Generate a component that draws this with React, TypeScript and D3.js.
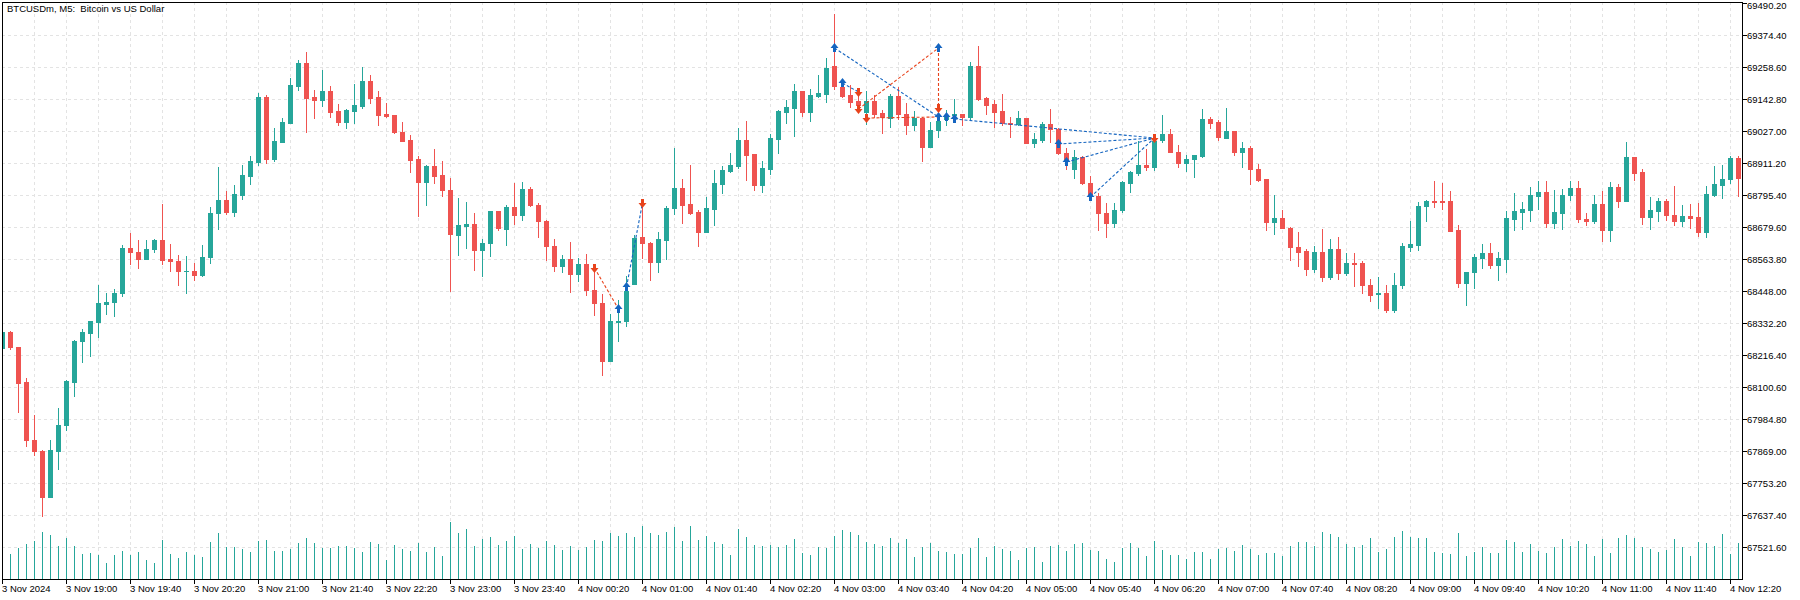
import React from 'react';
import * as d3 from 'd3';

// ---------- DATA ----------
// 5-minute candles starting 3 Nov 2024 18:20
const opens = [
68242,68300,68246,68118,67910,67870,67703,67870,67963,68118,68266,68295,68335,68400,68407,68440,68605,68589,68563,68600,
68634,68562,68557,68519,68522,68505,68571,68729,68777,68734,68795,68865,68915,69150,68926,68987,69056,69190,69273,69150,
69139,69172,69099,69060,69099,69118,69208,69150,69088,69085,69023,68994,68926,68842,68900,68866,68813,68651,68683,68690,
68598,68622,68737,68674,68753,68723,68817,68759,68701,68611,68538,68564,68510,68546,68452,68405,68195,68336,68340,68473,
68643,68622,68553,68634,68748,68821,68763,68733,68661,68746,68837,68884,68902,68994,68943,68832,68889,68998,69096,69110,
69172,69096,69154,69161,69262,69186,69157,69135,69096,69135,69092,69074,69154,69088,69049,69074,68969,69030,69070,69085,
69088,69076,69262,69145,69123,69098,69056,69052,69074,68984,68996,69052,69036,68949,68890,68933,68840,68790,68732,68694,
68740,68840,68875,68904,68897,68993,69016,68952,68911,68924,68937,69070,69058,69003,69027,68951,68965,68891,68852,68698,
68712,68676,68609,68592,68528,68589,68499,68600,68513,68549,68548,68471,68436,68441,68379,68468,68609,68616,68754,68774,
68773,68772,68667,68477,68515,68569,68585,68542,68565,68710,68735,68740,68793,68806,68694,68732,68794,68821,68710,68701,
68763,68669,68824,68774,68933,68877,68716,68739,68774,68724,68701,68719,68714,68661,68797,68833,68853,68929];
const highs = [
68302,68305,68247,68134,68000,67871,67910,68026,68127,68270,68311,68339,68468,68439,68457,68616,68659,68634,68634,68635,
68764,68619,68580,68576,68551,68616,68753,68898,68810,68832,68904,68937,69164,69157,69038,69074,69219,69284,69313,69175,
69248,69190,69125,69107,69197,69259,69230,69172,69128,69086,69060,69012,68937,68904,68962,68918,68857,68785,68770,68730,
68636,68738,68738,68759,68839,68842,68824,68766,68705,68636,68578,68625,68567,68582,68538,68437,68365,68415,68502,68651,
68756,68625,68662,68756,68965,68853,68904,68741,68788,68886,68900,68947,69038,69063,68944,68918,69016,69103,69139,69197,
69173,69179,69230,69290,69450,69215,69193,69165,69172,69157,69103,69161,69186,69128,69099,69078,69060,69088,69103,69143,
69090,69277,69335,69150,69139,69161,69078,69099,69075,69020,69060,69107,69037,68966,68958,68937,68864,68803,68766,68766,
68846,68882,68991,68962,68998,69085,69034,68976,68940,68941,69107,69078,69067,69110,69028,68987,68973,68908,68854,68795,
68741,68678,68662,68600,68611,68672,68636,68643,68585,68585,68557,68491,68499,68470,68513,68622,68701,68770,68777,68846,
68839,68810,68687,68518,68582,68618,68622,68589,68737,68803,68770,68824,68846,68846,68813,68817,68846,68846,68730,68795,
68810,68842,68835,68987,68934,68890,68788,68784,68781,68828,68759,68763,68766,68828,68900,68904,68936,68937];
const lows = [
68240,68237,68011,67887,67854,67634,67701,67805,67946,68068,68192,68213,68280,68365,68358,68430,68547,68533,68562,68588,
68547,68519,68471,68440,68487,68504,68551,68671,68728,68719,68781,68835,68904,68911,68918,68986,69055,69175,69023,69074,
69117,69078,69049,69038,69056,69110,69128,69049,69078,69020,68990,68879,68719,68759,68839,68792,68448,68578,68604,68524,
68502,68575,68669,68614,68690,68705,68755,68643,68560,68520,68517,68444,68484,68434,68361,68144,68194,68267,68321,68472,
68567,68488,68517,68564,68727,68694,68727,68611,68660,68687,68803,68879,68893,68850,68813,68806,68871,68947,69056,69009,
69081,69063,69150,69132,69180,69150,69114,69105,69052,69078,69019,69041,69070,69016,69031,68918,68968,69005,69049,69060,
69049,69070,69139,69088,69041,69049,69005,69049,68983,68969,68987,68987,68944,68890,68857,68835,68794,68669,68643,68680,
68734,68806,68868,68886,68886,68987,68950,68897,68882,68861,68933,69038,68994,69001,68940,68897,68835,68846,68669,68654,
68675,68560,68540,68505,68515,68484,68491,68491,68506,68466,68441,68412,68386,68372,68372,68459,68593,68596,68701,68752,
68745,68664,68462,68397,68459,68531,68531,68488,68517,68669,68672,68701,68745,68680,68676,68672,68777,68698,68687,68694,
68629,68629,68752,68773,68850,68690,68672,68701,68705,68687,68683,68676,68647,68643,68792,68784,68839,68792];
const closes = [
68300,68245,68114,67907,67869,67703,67874,67964,68121,68268,68298,68338,68403,68410,68441,68605,68588,68563,68601,68634,
68559,68555,68519,68522,68505,68572,68731,68778,68734,68799,68868,68918,69150,68926,68991,69060,69193,69273,69146,69139,
69172,69096,69060,69103,69121,69208,69146,69085,69081,69023,68991,68922,68842,68900,68864,68813,68654,68687,68690,68596,
68622,68737,68676,68752,68723,68817,68759,68701,68611,68538,68564,68510,68546,68452,68405,68195,68339,68340,68448,68640,
68622,68553,68636,68748,68821,68759,68730,68661,68748,68839,68886,68904,68994,68940,68832,68893,69002,69099,69114,69172,
69096,69157,69165,69255,69190,69154,69132,69121,69135,69088,69076,69154,69088,69049,69074,68969,69031,69063,69085,69089,
69078,69262,69143,69121,69096,69056,69052,69074,68984,68998,69052,69034,68947,68926,68933,68839,68795,68730,68694,68741,
68842,68879,68904,68897,68991,69016,68951,68911,68926,68940,69070,69056,69005,69027,68951,68965,68889,68850,68698,68712,
68676,68607,68589,68528,68589,68499,68600,68513,68549,68546,68470,68433,68441,68379,68470,68611,68618,68756,68774,68770,
68770,68665,68477,68517,68571,68585,68542,68567,68712,68737,68745,68795,68806,68694,68734,68795,68821,68708,68701,68763,
68669,68824,68774,68933,68875,68716,68741,68774,68723,68701,68719,68712,68661,68799,68835,68853,68929,68857];
const volumes = [
656,600,744,840,912,1128,1056,792,984,792,600,624,576,384,576,672,576,648,456,384,
936,600,504,648,576,528,888,1104,768,768,720,648,912,936,672,672,720,864,984,864,
744,744,792,792,744,648,888,840,456,816,720,672,864,648,768,552,1368,1104,1200,792,
960,1008,816,912,1032,720,840,744,912,816,696,792,696,768,936,912,1104,1032,1104,1008,
1272,1104,1056,1128,1248,912,1272,936,1032,888,840,576,1200,1008,816,792,816,768,816,960,
624,576,768,744,1032,1176,1128,1056,888,840,792,984,856,960,528,768,864,672,648,600,
600,744,984,528,792,720,672,456,744,768,408,792,816,672,840,864,696,672,480,408,
744,864,744,552,912,696,576,576,480,648,648,480,720,744,672,816,720,576,624,624,
552,792,888,888,792,1128,1080,1008,840,768,816,984,648,720,1008,1152,1008,984,984,648,
624,600,1104,552,648,768,624,624,936,888,648,840,672,624,768,960,792,912,840,552,
960,624,984,1056,984,768,720,648,696,960,768,552,888,864,792,1080,600,864];

const timeLabels = ['3 Nov 2024','3 Nov 19:00','3 Nov 19:40','3 Nov 20:20','3 Nov 21:00','3 Nov 21:40','3 Nov 22:20',
'3 Nov 23:00','3 Nov 23:40','4 Nov 00:20','4 Nov 01:00','4 Nov 01:40','4 Nov 02:20','4 Nov 03:00','4 Nov 03:40',
'4 Nov 04:20','4 Nov 05:00','4 Nov 05:40','4 Nov 06:20','4 Nov 07:00','4 Nov 07:40','4 Nov 08:20','4 Nov 09:00',
'4 Nov 09:40','4 Nov 10:20','4 Nov 11:00','4 Nov 11:40','4 Nov 12:20'];
const labelEvery = 8; // bars between time labels
const gridEvery = 4;  // bars between vertical grid lines

const priceLabels = [69490.2,69374.4,69258.6,69142.8,69027.0,68911.2,68795.4,68679.6,68563.8,68448.0,68332.2,
68216.4,68100.6,67984.8,67869.0,67753.2,67637.4,67521.6];

// trade markers [bar index, price]
const buyMarks = [[77,68382],[78,68464],[104,69327],[105,69202],[117,69328],[117,69079],[118,69079],[119,69069],
[132,68980],[133,68915],[136,68789]];
const sellMarks = [[74,68530],[80,68765],[107,69168],[107,69106],[108,69075],[117,69109],[144,69000]];
// trade connection lines [i1,p1,i2,p2]
const buyLines = [[78,68464,80,68765],[104,69327,117,69079],[105,69202,107,69168],[119,69069,144,69000],
[132,68980,144,69000],[133,68915,144,69000],[136,68789,144,69000]];
const sellLines = [[74,68530,77,68382],[107,69106,117,69328],[108,69075,117,69079],[117,69328,117,69109]];

const UP = '#26a69a';
const DOWN = '#ef5350';
const BLUE = '#1565c0';
const ORANGE = '#e8431c';
const GRID = '#e3e3e3';
const FONT = '"Liberation Sans", Arial, sans-serif';

export default function App() {
  const W = 1800, H = 600;
  const L = 2, R = 1742, T = 2, B = 579;
  const n = opens.length;
  const x = d3.scaleLinear().domain([0, 1]).range([2, 10]);
  const y = d3.scaleLinear().domain([67521.6, 69490.2]).range([547, 3]);
  const vh = d3.scaleLinear().domain([0, 1368]).range([0, 57]);
  const cx = (i: number) => Math.round(x(i));
  const py = (p: number) => Math.round(y(p));

  const idx = d3.range(n);
  const gridIdx = d3.range(0, n, gridEvery);

  const arrowUp = (i: number, p: number) => {
    const c = cx(i) + 0.5, m = py(p);
    return `M${c},${m - 5} L${c + 4},${m} L${c + 1.5},${m} L${c + 1.5},${m + 4} L${c - 1.5},${m + 4} L${c - 1.5},${m} L${c - 4},${m} Z`;
  };
  const arrowDown = (i: number, p: number) => {
    const c = cx(i) + 0.5, m = py(p);
    return `M${c},${m + 5} L${c + 4},${m} L${c + 1.5},${m} L${c + 1.5},${m - 4} L${c - 1.5},${m - 4} L${c - 1.5},${m} L${c - 4},${m} Z`;
  };

  return (
    <svg width={W} height={H} style={{ position: 'fixed', left: 0, top: 0, background: '#fff' }}
      xmlns="http://www.w3.org/2000/svg">
      <defs>
        <clipPath id="plot"><rect x={L + 1} y={T + 1} width={R - L - 1} height={B - T - 1} /></clipPath>
      </defs>
      <rect x={0} y={0} width={W} height={H} fill="#fff" />
      <g clipPath="url(#plot)">
        {priceLabels.slice(1).map((p, k) => (
          <line key={'hg' + k} x1={L} x2={R} y1={py(p) + 0.5} y2={py(p) + 0.5} stroke={GRID} strokeDasharray="3,3" />
        ))}
        {gridIdx.map(i => (
          <line key={'vg' + i} x1={cx(i) + 0.5} x2={cx(i) + 0.5} y1={T} y2={B} stroke={GRID} strokeDasharray="3,3" />
        ))}
        <g shapeRendering="crispEdges">
          {idx.map(i => {
            const h = Math.round(vh(volumes[i]));
            return <rect key={'v' + i} x={cx(i)} y={B - h} width={1} height={h} fill={UP} />;
          })}
        </g>
        <g shapeRendering="crispEdges">
          {idx.map(i => {
            const o = opens[i], c = closes[i], hi = highs[i], lo = lows[i];
            const col = c > o ? UP : DOWN;
            const top = py(Math.max(o, c)), bot = py(Math.min(o, c));
            const wt = py(hi), wb = py(lo);
            return (
              <g key={'c' + i}>
                <rect x={cx(i)} y={wt} width={1} height={Math.max(1, wb - wt + 1)} fill={col} />
                <rect x={cx(i) - 2} y={top} width={5} height={Math.max(1, bot - top + 1)} fill={col} />
              </g>
            );
          })}
        </g>
        {buyLines.map((l, k) => (
          <line key={'bl' + k} x1={cx(l[0]) + 0.5} y1={py(l[1])} x2={cx(l[2]) + 0.5} y2={py(l[3])}
            stroke={BLUE} strokeWidth={1.1} strokeDasharray="3,2" />
        ))}
        {sellLines.map((l, k) => (
          <line key={'sl' + k} x1={cx(l[0]) + 0.5} y1={py(l[1])} x2={cx(l[2]) + 0.5} y2={py(l[3])}
            stroke={ORANGE} strokeWidth={1.1} strokeDasharray="3,2" />
        ))}
        {buyMarks.map((m, k) => (
          <path key={'bm' + k} d={arrowUp(m[0], m[1])} fill={BLUE} />
        ))}
        {sellMarks.map((m, k) => (
          <path key={'sm' + k} d={arrowDown(m[0], m[1])} fill={ORANGE} />
        ))}
      </g>
      <g shapeRendering="crispEdges" stroke="#000" strokeWidth={1}>
        <line x1={L} x2={R + 1} y1={T + 0.5} y2={T + 0.5} />
        <line x1={L + 0.5} x2={L + 0.5} y1={T} y2={B + 1} />
        <line x1={R + 0.5} x2={R + 0.5} y1={T} y2={B + 1} />
        <line x1={L} x2={R + 1} y1={B + 0.5} y2={B + 0.5} />
      </g>
      {priceLabels.map((p, k) => (
        <g key={'pl' + k}>
          <line x1={R + 1} x2={R + 5} y1={py(p) + 0.5} y2={py(p) + 0.5} stroke="#000" shapeRendering="crispEdges" />
          <text x={R + 5} y={Math.max(py(p) + 4, 9)} fontFamily={FONT} fontSize={9.5} fill="#000">{p.toFixed(2)}</text>
        </g>
      ))}
      {timeLabels.map((t, k) => {
        const i = k * labelEvery;
        return (
          <g key={'tl' + k}>
            <line x1={cx(i) + 0.5} x2={cx(i) + 0.5} y1={B + 1} y2={B + 5} stroke="#000" shapeRendering="crispEdges" />
            <text x={cx(i)} y={592} fontFamily={FONT} fontSize={9.5} fill="#000">{t}</text>
          </g>
        );
      })}
      <text x={7} y={11.5} fontFamily={FONT} fontSize={9.5} fill="#000" style={{ whiteSpace: 'pre' }}>
        {'BTCUSDm, M5:  Bitcoin vs US Dollar'}
      </text>
    </svg>
  );
}
